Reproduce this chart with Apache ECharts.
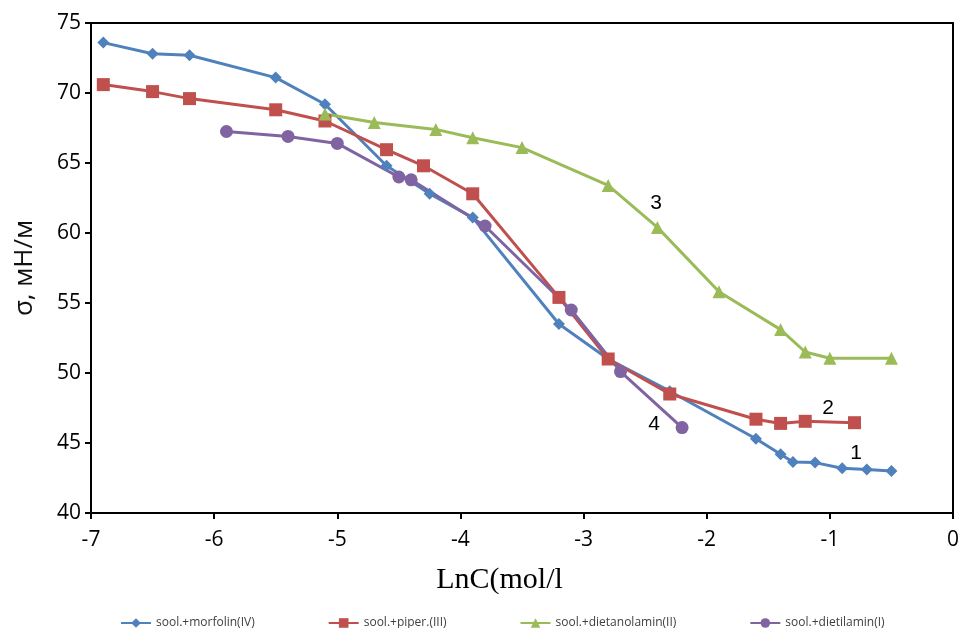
<!DOCTYPE html>
<html lang="en">
<head>
  <meta charset="UTF-8">
  <title>Surface tension vs LnC</title>
  <style>
    body, html {
      background: #fff;
      margin: 0;
      padding: 0;
    }
    #main {
      width: 962px;
      height: 628px;
    }
  </style>
</head>
<body>
  <div id="main"></div>
  <script src="https://cdn.jsdelivr.net/npm/echarts@6/dist/echarts.min.js"></script>
  <script>
    // data
    var morfolinX = [-6.9, -6.5, -6.2, -5.5, -5.1, -4.6, -4.25, -3.9, -3.2, -2.8, -2.3, -1.6, -1.4, -1.3, -1.12, -0.9, -0.7, -0.5];
    var morfolinY = [73.6, 72.8, 72.7, 71.1, 69.2, 64.8, 62.8, 61.1, 53.5, 51.0, 48.7, 45.3, 44.2, 43.65, 43.6, 43.2, 43.1, 43.0];

    var piperX = [-6.9, -6.5, -6.2, -5.5, -5.1, -4.6, -4.3, -3.9, -3.2, -2.8, -2.3, -1.6, -1.4, -1.2, -0.8];
    var piperY = [70.6, 70.1, 69.6, 68.8, 68.0, 65.95, 64.8, 62.8, 55.4, 51.0, 48.5, 46.7, 46.4, 46.55, 46.45];

    var dietanolX = [-5.1, -4.7, -4.2, -3.9, -3.5, -2.8, -2.4, -1.9, -1.4, -1.2, -1.0, -0.5];
    var dietanolY = [68.5, 67.9, 67.4, 66.8, 66.1, 63.4, 60.4, 55.8, 53.1, 51.5, 51.05, 51.05];

    var dietilX = [-5.9, -5.4, -5.0, -4.5, -4.4, -3.8, -3.1, -2.7, -2.2];
    var dietilY = [67.25, 66.9, 66.4, 64.0, 63.8, 60.5, 54.5, 50.1, 46.1];

    var seriesNames = ['sool.+morfolin(IV)', 'sool.+piper.(III)', 'sool.+dietanolamin(II)', 'sool.+dietilamin(I)'];
    var curveLabels = ['1', '2', '3', '4'];

    function pairs(xs, ys) {
      return xs.map(function (x, i) { return [x, ys[i]]; });
    }

    function numLabel(txt, x, y) {
      return {
        type: 'text', x: x, y: y,
        style: { text: txt, fontSize: 21, fontFamily: 'Liberation Sans', fill: '#000', align: 'center', verticalAlign: 'middle' }
      };
    }

    var myChart = echarts.init(document.getElementById('main'));

    var tickFont = { color: '#000', fontSize: 21, fontFamily: 'Open Sans' };

    var option = {
      animation: false,
      color: ['#4F81BD', '#C0504D', '#9BBB59', '#8064A2'],
      grid: {
        left: 91,
        right: 6,
        top: 23,
        bottom: 115,
        show: true,
        borderColor: '#000',
        borderWidth: 2
      },
      legend: {
        left: 115,
        top: 612,
        itemWidth: 30,
        itemHeight: 12,
        itemGap: 73,
        textStyle: { color: '#404040', fontSize: 12, fontFamily: 'Open Sans' },
        data: seriesNames
      },
      xAxis: {
        type: 'value',
        min: -7,
        max: 0,
        interval: 1,
        splitLine: { show: false },
        axisLine: { onZero: false, lineStyle: { color: '#000', width: 2 } },
        axisTick: { length: 6, lineStyle: { color: '#000', width: 2 } },
        axisLabel: Object.assign({ margin: 17 }, tickFont),
        name: 'LnC(mol/l',
        nameLocation: 'middle',
        nameGap: 52,
        nameTextStyle: {
          color: '#000',
          fontSize: 30,
          fontFamily: 'Liberation Serif',
          padding: [0, 45, 0, 0]
        }
      },
      yAxis: {
        type: 'value',
        min: 40,
        max: 75,
        interval: 5,
        splitLine: { show: false },
        axisLine: { onZero: false, lineStyle: { color: '#000', width: 2 } },
        axisTick: { length: 6, lineStyle: { color: '#000', width: 2 } },
        axisLabel: Object.assign({ margin: 10 }, tickFont),
        name: 'σ, мН/м',
        nameLocation: 'middle',
        nameRotate: 90,
        nameGap: 53,
        nameTextStyle: { color: '#111', fontSize: 26, fontFamily: 'Open Sans' }
      },
      series: [
        {
          name: seriesNames[0],
          type: 'line',
          symbol: 'diamond',
          symbolSize: 12,
          lineStyle: { width: 3 },
          data: pairs(morfolinX, morfolinY)
        },
        {
          name: seriesNames[1],
          type: 'line',
          symbol: 'rect',
          symbolSize: 13,
          lineStyle: { width: 3 },
          data: pairs(piperX, piperY)
        },
        {
          name: seriesNames[2],
          type: 'line',
          symbol: 'triangle',
          symbolSize: 13,
          lineStyle: { width: 3 },
          data: pairs(dietanolX, dietanolY)
        },
        {
          name: seriesNames[3],
          type: 'line',
          symbol: 'circle',
          symbolSize: 13,
          lineStyle: { width: 3 },
          data: pairs(dietilX, dietilY)
        }
      ],
      // curve numbers
      graphic: [
        numLabel(curveLabels[0], 856, 453),
        numLabel(curveLabels[1], 828, 408),
        numLabel(curveLabels[2], 656, 203),
        numLabel(curveLabels[3], 654, 424)
      ]
    };

    myChart.setOption(option);
  </script>
</body>
</html>
